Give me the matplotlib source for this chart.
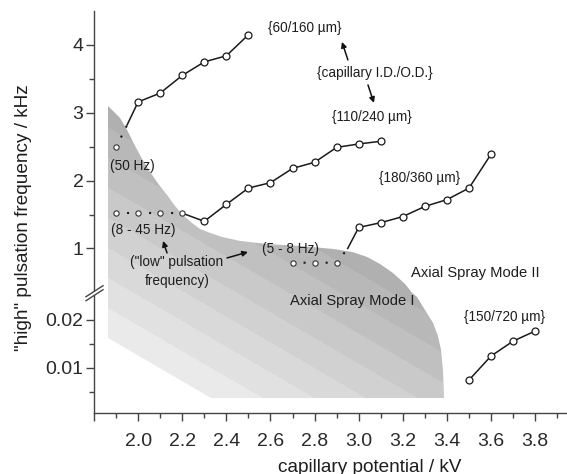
import matplotlib
matplotlib.use("Agg")
import matplotlib.pyplot as plt
import numpy as np
from matplotlib.patches import Polygon

plt.rcParams['font.family'] = ['Liberation Sans', 'DejaVu Sans']

# "high" frequency branches (kV, kHz); lower panel values are in kHz too
hi60_x = [2.0, 2.1, 2.2, 2.3, 2.4, 2.5]
hi60_y = [3.16, 3.29, 3.55, 3.75, 3.84, 4.15]
hi110_x = [2.3, 2.4, 2.5, 2.6, 2.7, 2.8, 2.9, 3.0, 3.1]
hi110_y = [1.40, 1.65, 1.89, 1.97, 2.18, 2.27, 2.49, 2.54, 2.58]
hi180_x = [3.0, 3.1, 3.2, 3.3, 3.4, 3.5, 3.6]
hi180_y = [1.31, 1.38, 1.47, 1.62, 1.72, 1.89, 2.39]
hi150_x = [3.5, 3.6, 3.7, 3.8]
hi150_y = [0.0075, 0.0125, 0.0156, 0.0177]

# "low" pulsation points and the knee where the high branch takes over
lo60_x, lo60_y = [1.9], [2.49]
knee60 = (1.95, 2.82)
lo110_x, lo110_y = [1.9, 2.0, 2.1, 2.2], [1.52, 1.52, 1.52, 1.52]
knee110 = (2.2, 1.52)
lo180_x, lo180_y = [2.7, 2.8, 2.9], [0.79, 0.79, 0.79]
knee180 = (2.95, 1.0)

# outline of the axial spray mode I domain
region_x = [1.8635, 1.891, 1.918, 1.950, 1.977, 2.013, 2.054, 2.095, 2.131, 2.167,
            2.203, 2.244, 2.281, 2.326, 2.380, 2.462, 2.584, 2.734, 2.883, 2.970,
            3.038, 3.096, 3.155, 3.210, 3.242, 3.264, 3.300, 3.337, 3.359, 3.373,
            3.382, 3.387, 2.330, 1.8635]
region_y = [3.101, 3.012, 2.924, 2.747, 2.570, 2.349, 2.128, 1.936, 1.789, 1.627,
            1.494, 1.376, 1.287, 1.229, 1.170, 1.111, 1.066, 1.037, 0.993, 0.948,
            0.875, 0.772, 0.639, 0.477, 0.344, 0.0248, 0.0221, 0.0194, 0.0167, 0.0138,
            0.0096, 0.00375, 0.00375, 0.01625]

# broken y axis: 0-0.0255 kHz below, 0.345-4.5 kHz above
brk_in = [-1.0, 0.0255, 0.345, 10.0]
brk_out = [-4800.0, 122.4, 167.5 + 67.83 * (0.345 - 1), 167.5 + 67.83 * 9]


def fwd(y):
    return np.interp(y, brk_in, brk_out)


def inv(p):
    return np.interp(p, brk_out, brk_in)


fig = plt.figure(figsize=(5.67, 4.74), dpi=100)
ax = fig.add_axes([94 / 567, 61 / 474, 473 / 567, 402 / 474])
ax.set_yscale('function', functions=(fwd, inv))
XLIM = (1.8, 1.8 + 473 / 220.6)
YLIM = (0.000625, 4.5)

# banded grey shading of the mode I domain
W, H = 473, 402
xx, yy = np.meshgrid(np.arange(W) + 0.5, np.arange(H) + 0.5)
d = ((xx + 94 - 108) * 60 - (yy + 11 - 338) * 103) / 119.2
band = np.floor(np.clip(d, -10, 215) / 26) * 26 + 13
g = np.clip(0.935 - 0.25 * band / 200, 0.68, 0.95)
rgb = np.dstack([g, g, g])
patch = Polygon(np.column_stack([region_x, region_y]), closed=True,
                facecolor='none', edgecolor='none', transform=ax.transData)
ax.add_patch(patch)
im = ax.imshow(rgb, extent=(0, 1, 0, 1), transform=ax.transAxes, aspect='auto',
               interpolation='bilinear', zorder=1)
im.set_clip_path(patch)

# one dot halfway between neighbouring low-frequency points (0.1 kV = 22 px)
dot_style = dict(color='#1a1a1a', lw=1.5, linestyle=(0, (1, 4.29)), zorder=3)
solid_style = dict(color='#1a1a1a', lw=1.1, zorder=3)
hi_mark = dict(ls='none', marker='o', ms=5, mfc='white', mec='#1a1a1a', mew=0.9, zorder=4)
lo_mark = dict(ls='none', marker='o', ms=3.8, mfc='white', mec='#333333', mew=0.8, zorder=4)

branches = [(lo60_x, lo60_y, knee60, hi60_x, hi60_y),
            (lo110_x, lo110_y, knee110, hi110_x, hi110_y),
            (lo180_x, lo180_y, knee180, hi180_x, hi180_y)]
for lx, ly, knee, hx, hy in branches:
    ax.plot(lx + [knee[0]], ly + [knee[1]], **dot_style)
    ax.plot([knee[0]] + hx, [knee[1]] + hy, **solid_style)
    ax.plot(lx, ly, **lo_mark)
    ax.plot(hx, hy, **hi_mark)
ax.plot(hi150_x, hi150_y, **solid_style)
ax.plot(hi150_x, hi150_y, **hi_mark)

small = dict(fontsize=9.8, color='#1e1e1e', ha='center', va='center', zorder=5)
ax.text(2.756, 4.251, '{60/160 µm}', **small)
ax.text(3.074, 3.587, '{capillary I.D./O.D.}', **small)
ax.text(3.060, 2.939, '{110/240 µm}', **small)
ax.text(3.278, 2.039, '{180/360 µm}', **small)
ax.text(3.659, 0.0206, '{150/720 µm}', **small)
ax.text(2.691, 0.993, '(5 - 8 Hz)', **small)
ax.text(2.176, 0.654, '("low" pulsation\nfrequency)', linespacing=1.45, **small)
ax.text(1.873, 2.216, '(50 Hz)', **dict(small, ha='left'))
ax.text(1.877, 1.273, '(8 - 45 Hz)', **dict(small, ha='left'))
ax.text(3.527, 0.639, 'Axial Spray Mode II', fontsize=10.6, color='#1e1e1e',
        ha='center', va='center', zorder=5)
ax.text(2.970, 0.024, 'Axial Spray Mode I', fontsize=10.6, color='#1e1e1e',
        ha='center', va='center', zorder=5)

arrows = [((2.951, 3.779), (2.924, 4.045)),
          ((3.042, 3.41), (3.069, 3.145)),
          ((2.131, 0.934), (2.113, 1.111)),
          ((2.403, 0.86), (2.498, 0.948))]
for tail, head in arrows:
    ax.annotate('', xy=head, xytext=tail, zorder=5,
                arrowprops=dict(arrowstyle='-|>', color='#111111', lw=1.1,
                                mutation_scale=8, shrinkA=0, shrinkB=0))

ax.set_xlim(*XLIM)
ax.set_ylim(*YLIM)

xt = np.round(np.arange(1.8, 3.81, 0.2), 1)
ax.set_xticks(xt, [''] + ['%.1f' % v for v in xt[1:]])
ax.set_xticks(np.round(np.arange(1.9, 3.91, 0.2), 1), minor=True)
ax.set_yticks([0.01, 0.02, 1, 2, 3, 4], ['0.01', '0.02', '1', '2', '3', '4'])
ax.set_yticks([0.005, 0.015, 1.5, 2.5, 3.5], minor=True)
ax.tick_params(which='both', direction='out', color='#444444', width=1.0,
               labelsize=14, labelcolor='#2a2a2a')
ax.tick_params(which='major', length=6)
ax.tick_params(which='minor', length=3.5)
ax.tick_params(axis='x', which='major', pad=8.5)
ax.tick_params(axis='y', which='major', pad=1.5)

for s in ['top', 'right']:
    ax.spines[s].set_visible(False)
for s in ['left', 'bottom']:
    ax.spines[s].set_color('#444444')
    ax.spines[s].set_linewidth(1.0)

# "//" break marks on the y axis (offsets in pixels around the break)
yb = (ax.transScale + ax.transLimits).transform((2.0, 0.2))[1]
sx, sy = 1 / 473, 1 / 402
gap = Polygon([(-8 * sx, yb - 7.5 * sy), (9 * sx, yb + 3.5 * sy),
               (9 * sx, yb + 7.5 * sy), (-8 * sx, yb - 3.5 * sy)],
              closed=True, facecolor='white', edgecolor='none',
              transform=ax.transAxes, clip_on=False, zorder=6)
ax.add_patch(gap)
for off in (-2.0, 2.0):
    ax.plot([-8 * sx, 9 * sx], [yb + (off - 5.5) * sy, yb + (off + 5.5) * sy],
            transform=ax.transAxes, clip_on=False, color='#444444', lw=1.0, zorder=7)

fig.text(370 / 567, 1 - 467 / 474, 'capillary potential / kV', fontsize=13.7,
         color='#1e1e1e', ha='center', va='center')
fig.text(24 / 567, 1 - 218 / 474, '"high" pulsation frequency / kHz', fontsize=13.7,
         color='#1e1e1e', ha='center', va='center', rotation=90)

fig.savefig('out.png', dpi=100)
